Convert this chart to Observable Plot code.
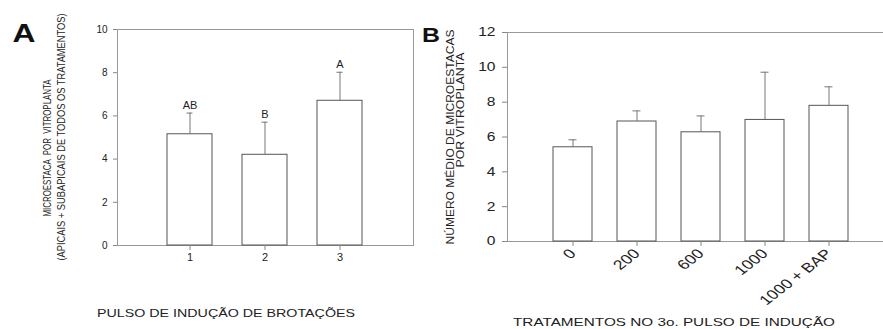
<!DOCTYPE html>
<html><head><meta charset="utf-8">
<script src="https://cdn.jsdelivr.net/npm/d3@7"></script>
<script src="https://cdn.jsdelivr.net/npm/@observablehq/plot@0.6"></script>
<style>
html,body{margin:0;padding:0;background:#fff;overflow:hidden;width:883px;height:329px;}
#root{position:relative;width:883px;height:329px;overflow:hidden;font-family:"Liberation Sans",Arial,sans-serif;color:#222;}
.abs{position:absolute;white-space:pre;line-height:1;}
#root svg{position:absolute;top:0;}
</style></head><body><div id="root"></div>
<script>
// Panel A data
const catsA = ["1", "2", "3"];
const meansA = [5.15, 4.2, 6.7];
const errTopA = [6.13, 5.71, 8.02];
const lettersA = ["AB", "B", "A"];
const ticksA = [0, 2, 4, 6, 8, 10];
// Panel B data
const catsB = ["0", "200", "600", "1000", "1000 + BAP"];
const meansB = [5.41, 6.89, 6.27, 6.98, 7.79];
const errTopB = [5.84, 7.5, 7.21, 9.72, 8.88];
const ticksB = [0, 2, 4, 6, 8, 10, 12];

const dataA = catsA.map((c, i) => ({c, m: meansA[i], e: errTopA[i], l: lettersA[i]}));
const dataB = catsB.map((c, i) => ({c, m: meansB[i], e: errTopB[i]}));
const font = "Liberation Sans, Arial, sans-serif";

const plotA = Plot.plot({
  width: 440, height: 329,
  marginLeft: 117, marginRight: 27, marginTop: 29, marginBottom: 84,
  style: {background: "transparent", fontFamily: font, color: "#222"},
  x: {domain: catsA, paddingInner: 0.395, paddingOuter: 0.645, axis: null},
  y: {domain: [0, 10], axis: null},
  marks: [
    Plot.frame({stroke: "#999"}),
    Plot.barY(dataA, {x: "c", y: "m", fill: "white", stroke: "#555"}),
    Plot.ruleX(dataA, {x: "c", y1: "m", y2: "e", stroke: "#777"}),
    Plot.tickY(dataA, {x: "c", y: "e", stroke: "#777", insetLeft: 19.5, insetRight: 19.5}),
    Plot.text(dataA, {x: "c", y: "e", text: "l", dy: -8, fontSize: 11, fill: "#222"}),
    Plot.axisY({ticks: ticksA, tickSize: 4, tickPadding: 6, stroke: "#888", fill: "#222", fontSize: 10, label: null}),
    Plot.axisX({tickSize: 5, tickPadding: 3, stroke: "#888", fill: "#222", fontSize: 11, label: null})
  ]
});

const plotB = Plot.plot({
  width: 484, height: 329,
  marginLeft: 87, marginRight: 10, marginTop: 32, marginBottom: 88,
  style: {background: "transparent", fontFamily: font, color: "#222"},
  x: {domain: catsB, paddingInner: 0.39, paddingOuter: 0.707, axis: null},
  y: {domain: [0, 12], axis: null},
  marks: [
    Plot.frame({stroke: "#999"}),
    Plot.barY(dataB, {x: "c", y: "m", fill: "white", stroke: "#555"}),
    Plot.ruleX(dataB, {x: "c", y1: "m", y2: "e", stroke: "#777"}),
    Plot.tickY(dataB, {x: "c", y: "e", stroke: "#777", insetLeft: 15.5, insetRight: 15.5}),
    Plot.axisY({ticks: ticksB, tickSize: 5, tickPadding: 7, stroke: "#888", fill: "#222", fontSize: 12, label: null}),
    Plot.axisX({tickSize: 5, tickPadding: 5, tickRotate: -45, stroke: "#888", fill: "#222", fontSize: 13.5, label: null})
  ]
});

// widen panel B tick labels horizontally, like the reference's stretched type
d3.select(plotB).selectAll("g[aria-label='y-axis tick label'] text").each(function() {
  const t = this.getAttribute("transform") || "";
  this.setAttribute("transform", t + " scale(1.3,1)");
});
d3.select(plotB).selectAll("g[aria-label='x-axis tick label'] text").each(function() {
  const t = this.getAttribute("transform") || "";
  this.setAttribute("transform", t.includes("rotate") ? t.replace("rotate", "scale(1.3,1) rotate") : t + " scale(1.3,1)");
});

const root = document.getElementById("root");
plotA.style.left = "0px";
plotB.style.left = "420px";
root.appendChild(plotA);
root.appendChild(plotB);

// place a text centred at (cx, cy); target = desired length along the text direction
function addText(txt, cx, cy, css, rotate, target, sx) {
  const d = document.createElement("div");
  d.className = "abs";
  d.textContent = txt;
  d.style.left = cx + "px";
  d.style.top = cy + "px";
  Object.assign(d.style, css);
  root.appendChild(d);
  let s = sx || 1;
  if (target) s = target / d.getBoundingClientRect().width;
  d.style.transform = "translate(-50%,-50%) " + (rotate ? "rotate(-90deg) " : "") + "scaleX(" + s + ")";
}
addText("A", 23.5, 32.5, {fontSize: "26px", fontWeight: "bold", color: "#111"}, false, 23);
addText("B", 431, 35, {fontSize: "20px", fontWeight: "bold", color: "#111"}, false, 18);
addText("MICROESTACA  POR  VITROPLANTA", 47, 148, {fontSize: "11px"}, true, 137);
addText("(APICAIS + SUBAPICAIS DE TODOS OS TRATAMENTOS)", 61, 137, {fontSize: "11px"}, true, 247);
addText("NÚMERO MÉDIO DE MICROESTACAS", 450, 137, {fontSize: "11px"}, true, 215);
addText("POR VITROPLANTA", 460, 110, {fontSize: "11px"}, true, 115);
addText("PULSO DE INDUÇÃO DE BROTAÇÕES", 226, 313, {fontSize: "11px"}, false, 258);
addText("TRATAMENTOS NO 3o. PULSO DE INDUÇÃO", 674, 323, {fontSize: "11.5px"}, false, 322);
</script></body></html>
